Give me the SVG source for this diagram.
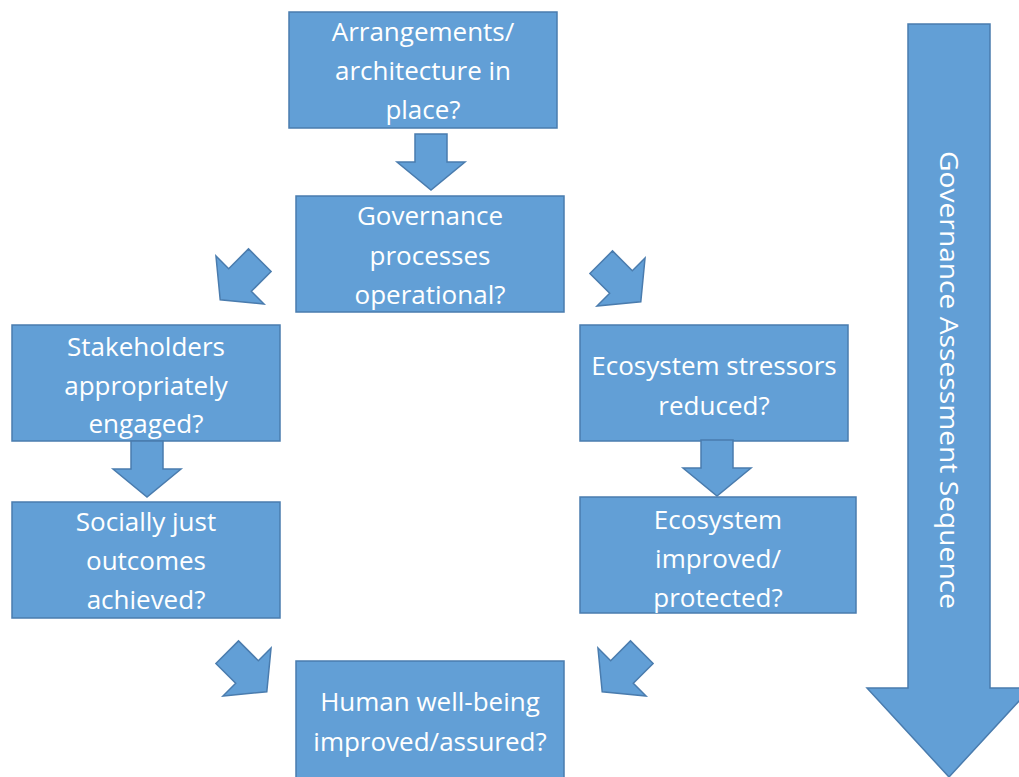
<svg xmlns="http://www.w3.org/2000/svg" width="1019" height="777" viewBox="0 0 1019 777">
  <style>
    .box { fill: #629fd6; stroke: #4a7cae; stroke-width: 1.5; }
    .arr { fill: #629fd6; stroke: #4a7cae; stroke-width: 1.5; stroke-linejoin: miter; }
    .lbl { fill: #ffffff; font-family: "Open Sans", "Liberation Sans", sans-serif; font-size: 26px; text-anchor: middle; }
  </style>
  <defs>
    <!-- down-pointing block arrow, origin at the base of the head -->
    <polygon id="blk" points="-16,-28 16,-28 16,0 34,0 0,28 -34,0 -16,0"/>
  </defs>

  <!-- side bar: overall sequence -->
  <g id="sequence">
    <polygon class="arr" points="908,24 990,24 990,688 1031,688 949,777 867,688 908,688"/>
    <text class="lbl" transform="translate(949,380) rotate(90)" dy="9" textLength="458" lengthAdjust="spacingAndGlyphs">Governance Assessment Sequence</text>
  </g>

  <g id="n-arrangements">
    <rect class="box" x="289" y="12" width="268" height="116"/>
    <text class="lbl" x="423" y="41">Arrangements/</text>
    <text class="lbl" x="423" y="80">architecture in</text>
    <text class="lbl" x="423" y="119">place?</text>
  </g>
  <g id="n-processes">
    <rect class="box" x="296" y="196" width="268" height="116"/>
    <text class="lbl" x="430" y="225">Governance</text>
    <text class="lbl" x="430" y="265">processes</text>
    <text class="lbl" x="430" y="304">operational?</text>
  </g>
  <g id="n-stakeholders">
    <rect class="box" x="12" y="325" width="268" height="116"/>
    <text class="lbl" x="146" y="356">Stakeholders</text>
    <text class="lbl" x="146" y="395">appropriately</text>
    <text class="lbl" x="146" y="433">engaged?</text>
  </g>
  <g id="n-stressors">
    <rect class="box" x="580" y="325" width="268" height="116"/>
    <text class="lbl" x="714" y="375">Ecosystem stressors</text>
    <text class="lbl" x="714" y="415">reduced?</text>
  </g>
  <g id="n-social">
    <rect class="box" x="12" y="502" width="268" height="116"/>
    <text class="lbl" x="146" y="531">Socially just</text>
    <text class="lbl" x="146" y="570">outcomes</text>
    <text class="lbl" x="146" y="609">achieved?</text>
  </g>
  <g id="n-ecosystem">
    <rect class="box" x="580" y="497" width="276" height="116"/>
    <text class="lbl" x="718" y="529">Ecosystem</text>
    <text class="lbl" x="718" y="568">improved/</text>
    <text class="lbl" x="718" y="607">protected?</text>
  </g>
  <g id="n-wellbeing">
    <rect class="box" x="296" y="661" width="268" height="130"/>
    <text class="lbl" x="430" y="711">Human well-being</text>
    <text class="lbl" x="430" y="751">improved/assured?</text>
  </g>

  <g id="connectors">
    <use href="#blk" class="arr" transform="translate(431,162)"/>
    <use href="#blk" class="arr" transform="translate(240,280) rotate(45)"/>
    <use href="#blk" class="arr" transform="translate(621,282) rotate(-45)"/>
    <use href="#blk" class="arr" transform="translate(147,469)"/>
    <use href="#blk" class="arr" transform="translate(717,468)"/>
    <use href="#blk" class="arr" transform="translate(247,672) rotate(-45)"/>
    <use href="#blk" class="arr" transform="translate(622,672) rotate(45)"/>
  </g>
</svg>
